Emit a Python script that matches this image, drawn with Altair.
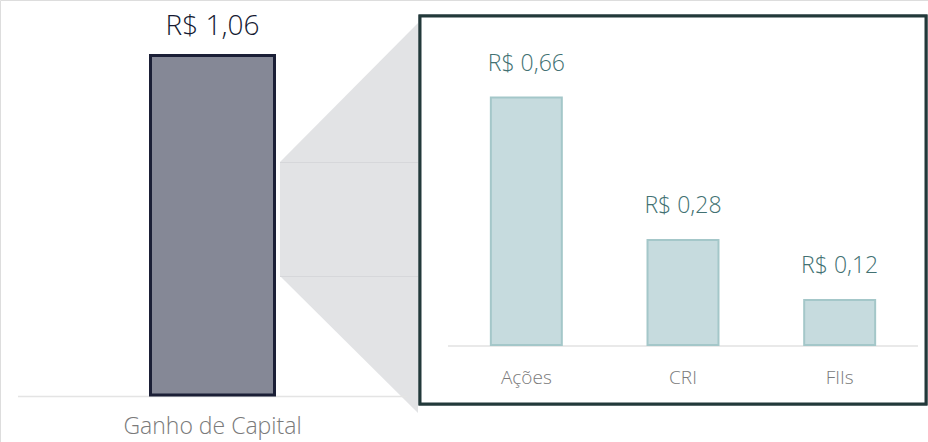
import altair as alt
import pandas as pd

# ---- data ----
total_cat = ["Ganho de Capital"]
total_val = [1.06]
total_lbl = ["R$ 1,06"]

cats = ["Ações", "CRI", "FIIs"]
vals = [0.66, 0.28, 0.12]
lbls = ["R$ 0,66", "R$ 0,28", "R$ 0,12"]

FONT = "Open Sans"
W, H = 928, 442

df_total = pd.DataFrame({"cat": total_cat, "val": total_val, "lbl": total_lbl})
df_parts = pd.DataFrame({"cat": cats, "val": vals, "lbl": lbls})

# layout geometry (decorations)
funnel = pd.DataFrame({"px": [280, 418], "top": [162, 23], "bot": [276, 413]})

px_scale = alt.Scale(domain=[0, W], range=[0, W], nice=False, zero=False)
py_scale = alt.Scale(domain=[0, H], range=[0, H], nice=False, zero=False)

funnel_area = alt.Chart(funnel).mark_area(color="#e2e3e5", opacity=1).encode(
    x=alt.X("px:Q", scale=px_scale, axis=None),
    y=alt.Y("top:Q", scale=py_scale, axis=None),
    y2="bot:Q",
)
funnel_line1 = alt.Chart(funnel).mark_rule(color="#d6d7da", strokeWidth=1).encode(
    x=alt.value(280), x2=alt.value(418), y=alt.value(162.5)
)
funnel_line2 = alt.Chart(funnel).mark_rule(color="#d6d7da", strokeWidth=1).encode(
    x=alt.value(280), x2=alt.value(418), y=alt.value(276.5)
)

box = alt.Chart(funnel).mark_rect(fill="white", stroke="#22393a", strokeWidth=3).encode(
    x=alt.value(420), x2=alt.value(926), y=alt.value(16), y2=alt.value(404)
)

base_left = alt.Chart(df_total).mark_rule(color="#e4e4e4", strokeWidth=1.5).encode(
    x=alt.value(18), x2=alt.value(407), y=alt.value(396.5)
)
base_right = alt.Chart(df_parts).mark_rule(color="#e8e8e8", strokeWidth=1.5).encode(
    x=alt.value(448), x2=alt.value(918), y=alt.value(346)
)

# left (total) bar
xl = alt.X("cat:N", scale=alt.Scale(domain=total_cat, range=[150.5, 274.5], paddingInner=0, paddingOuter=0), axis=None)
yl = alt.Y("val:Q", scale=alt.Scale(domain=[0, 1.06], range=[395, 55.5], nice=False, zero=True), axis=None)

total_bar = alt.Chart(df_total).mark_bar(fill="#858896", stroke="#1b1f36", strokeWidth=3, cornerRadius=0).encode(
    x=xl, y=yl
)
total_text = alt.Chart(df_total).mark_text(
    font=FONT, fontSize=28, fontWeight=300, color="#151a32", baseline="alphabetic", dy=-21
).encode(x=xl, y=yl, text="lbl:N")
total_cat_text = alt.Chart(df_total).mark_text(
    font=FONT, fontSize=23, fontWeight=300, color="#7a7a7a", baseline="alphabetic"
).encode(x=xl, y=alt.value(434), text="cat:N")

# right (parts) bars
xr = alt.X("cat:N", scale=alt.Scale(domain=cats, range=[448, 918], paddingInner=0.547, paddingOuter=0.2735), axis=None)
yr = alt.Y("val:Q", scale=alt.Scale(domain=[0, 0.66], range=[345, 97.5], nice=False, zero=True), axis=None)

part_bars = alt.Chart(df_parts).mark_bar(fill="#c6dbde", stroke="#a4c7c9", strokeWidth=2).encode(
    x=xr, y=yr
)
part_text = alt.Chart(df_parts).mark_text(
    font=FONT, fontSize=23, fontWeight=300, color="#427172", baseline="alphabetic", dy=-27
).encode(x=xr, y=yr, text="lbl:N")
part_cat_text = alt.Chart(df_parts).mark_text(
    font=FONT, fontSize=19, fontWeight=300, color="#7a7a7a", baseline="alphabetic"
).encode(x=xr, y=alt.value(384), text="cat:N")

chart = alt.layer(
    funnel_area, funnel_line1, funnel_line2, box,
    base_left, base_right,
    total_bar, total_text, total_cat_text,
    part_bars, part_text, part_cat_text,
).resolve_scale(x="independent", y="independent").properties(
    width=W, height=H, padding=0, autosize=alt.AutoSizeParams(type="none")
).configure_view(stroke=None).configure(background="white")

chart.save("out.html", embed_options={"renderer": "svg", "actions": False})
